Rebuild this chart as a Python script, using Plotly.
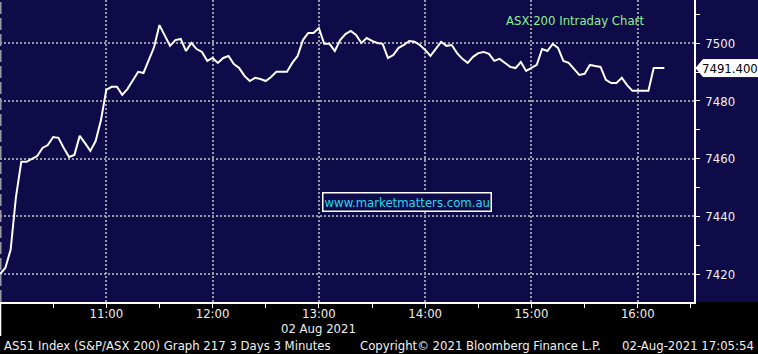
import pandas as pd
import plotly.graph_objects as go

# ---- data ----
start_time = "2021-08-02 10:00"
interval = "3min"
values = [
    7420.0, 7422.1, 7428.4, 7446.7, 7458.9, 7458.9, 7459.9, 7460.9, 7463.7, 7464.7,
    7467.5, 7467.2, 7463.7, 7460.6, 7461.3, 7467.9, 7465.4, 7462.7, 7466.1, 7473.4,
    7483.8, 7484.9, 7484.9, 7482.1, 7484.2, 7487.3, 7490.1, 7489.7, 7494.2, 7498.7,
    7506.3, 7502.9, 7499.1, 7501.1, 7501.5, 7497.3, 7500.1, 7498.0, 7497.0, 7493.9,
    7494.9, 7493.2, 7494.9, 7495.6, 7492.8, 7491.4, 7488.7, 7486.9, 7488.0, 7487.6,
    7486.9, 7488.3, 7490.1, 7490.1, 7490.1, 7493.2, 7495.6, 7501.1, 7503.6, 7503.6,
    7505.3, 7499.8, 7499.8, 7497.3, 7501.1, 7503.2, 7504.3, 7502.9, 7500.1, 7501.8,
    7500.8, 7500.1, 7499.8, 7494.9, 7495.9, 7498.4, 7499.4, 7500.8, 7500.5, 7499.4,
    7497.7, 7495.6, 7498.0, 7500.5, 7499.1, 7499.4, 7496.6, 7494.6, 7493.2, 7495.3,
    7496.6, 7497.0, 7496.3, 7493.9, 7494.6, 7493.2, 7491.8, 7491.4, 7493.5, 7490.4,
    7491.4, 7492.5, 7498.0, 7497.3, 7499.8, 7498.4, 7493.9, 7493.2, 7491.1, 7489.0,
    7489.4, 7492.5, 7492.1, 7491.8, 7487.3, 7486.2, 7486.2, 7488.0, 7485.5, 7483.5,
    7483.5, 7483.5, 7483.5, 7491.4, 7491.4, 7491.4,
]
times = pd.date_range(start_time, periods=len(values), freq=interval)

x_tick_vals = ["2021-08-02 11:00", "2021-08-02 12:00", "2021-08-02 13:00",
               "2021-08-02 14:00", "2021-08-02 15:00", "2021-08-02 16:00"]
x_tick_text = ["11:00", "12:00", "13:00", "14:00", "15:00", "16:00"]
date_label = "02 Aug 2021"
date_label_at = "2021-08-02 13:00"
y_tick_vals = [7420, 7440, 7460, 7480, 7500]
last_value = 7491.4
last_label = "7491.400"
title_text = "ASX 200 Intraday Chart"
watermark = "www.marketmatters.com.au"
footer_left = "AS51 Index (S&P/ASX 200) Graph 217 3 Days 3 Minutes"
footer_mid = "Copyright\u00a9 2021 Bloomberg Finance L.P."
footer_right = "02-Aug-2021 17:05:54"

# ---- style ----
W, H = 758, 354
ML, MR, MT, MB = 0, 64, 0, 52
PW, PH = W - ML - MR, H - MT - MB
Y_RANGE = [7410.3, 7515.0]
NAVY = "#0e0b48"
GRID = "#9a9aa6"
FONT = "DejaVu Sans Condensed, Liberation Sans, sans-serif"
LABEL = "#f2efe8"
UNITS_PER_PX = (Y_RANGE[1] - Y_RANGE[0]) / PH

def px_x(p):
    return p / PW

def px_y(p):
    return 1 - p / PH

fig = go.Figure()
fig.add_trace(go.Scatter(x=times, y=values, mode="lines",
                         line=dict(color="white", width=2), hoverinfo="skip",
                         showlegend=False))
# pointer triangles at the major y ticks (on an overlay axis in paper units)
fig.add_trace(go.Scatter(x=[px_x(698.5)] * len(y_tick_vals), y=y_tick_vals,
                         xaxis="x2", mode="markers", cliponaxis=False,
                         marker=dict(symbol="triangle-right", size=7, color="white",
                                     line=dict(width=0)),
                         hoverinfo="skip", showlegend=False))

fig.update_layout(
    width=W, height=H,
    margin=dict(l=ML, r=MR, t=MT, b=MB, pad=0),
    paper_bgcolor="black",
    plot_bgcolor=NAVY,
    font=dict(family=FONT, size=13, color=LABEL),
    showlegend=False,
    xaxis=dict(
        type="date",
        range=["2021-08-02 10:00", "2021-08-02 16:31:45"],
        tickvals=x_tick_vals, ticktext=x_tick_text,
        ticklabelstandoff=-1,
        showgrid=True, gridcolor=GRID, gridwidth=2, griddash="2px,2px",
        showline=True, linecolor="white", linewidth=1.5,
        ticks="", ticklen=0,
        minor=dict(dtick=30 * 60 * 1000, tick0="2021-08-02 10:30",
                   ticks="outside", ticklen=4, tickcolor="white", tickwidth=1,
                   showgrid=False),
        tickfont=dict(size=13, color=LABEL),
        zeroline=False, fixedrange=True,
    ),
    xaxis2=dict(overlaying="x", range=[0, 1], visible=False, fixedrange=True),
    yaxis=dict(
        side="right",
        range=Y_RANGE,
        tickvals=y_tick_vals,
        ticktext=[str(v) for v in y_tick_vals],
        ticklabelstandoff=7,
        showgrid=True, gridcolor=GRID, gridwidth=2, griddash="2px,2px",
        showline=True, linecolor="white", linewidth=1.5,
        ticks="", ticklen=0,
        minor=dict(dtick=10, tick0=7410, ticks="outside", ticklen=4,
                   tickcolor="white", tickwidth=1, showgrid=False),
        tickfont=dict(size=13, color=LABEL),
        zeroline=False, fixedrange=True,
    ),
)

shapes = [
    # navy panel to the right of the plot
    dict(type="rect", xref="paper", yref="paper", x0=1, x1=W / PW, y0=0, y1=1,
         fillcolor=NAVY, line=dict(width=0), layer="below"),
    # dashed left border
    dict(type="line", xref="paper", yref="paper", x0=px_x(0.5), x1=px_x(0.5), y0=0, y1=1,
         line=dict(color=GRID, width=2, dash="12px,4px"), layer="above"),
    # white tick at left below axis
    dict(type="line", xref="paper", yref="paper", x0=px_x(0.5), x1=px_x(0.5),
         y0=0, y1=-34 / PH, line=dict(color="white", width=1.5), layer="above"),
]
# last value tag (pointed box)
half = 8.5 * UNITS_PER_PX
tip, body, right = px_x(696), px_x(703), W / PW
shapes.append(dict(
    type="path", xref="paper", yref="y",
    path=(f"M {tip},{last_value} L {body},{last_value + half} L {right},{last_value + half} "
          f"L {right},{last_value - half} L {body},{last_value - half} Z"),
    fillcolor="white", line=dict(color="white", width=1), layer="above"))
fig.update_layout(shapes=shapes)

annotations = [
    dict(text=last_label, xref="paper", yref="y", x=px_x(700), y=last_value,
         xanchor="left", yanchor="middle", showarrow=False,
         font=dict(size=13, color="black")),
    dict(text=date_label, xref="x", yref="paper", x=date_label_at, y=px_y(328),
         xanchor="center", yanchor="middle", showarrow=False,
         font=dict(size=13, color=LABEL)),
    dict(text=title_text, xref="paper", yref="paper", x=px_x(504), y=px_y(20),
         xanchor="left", yanchor="middle", showarrow=False,
         font=dict(size=13, color="#8ef08e")),
    dict(text=watermark, xref="paper", yref="paper", x=px_x(407), y=px_y(202),
         xanchor="center", yanchor="middle", showarrow=False,
         font=dict(size=13, color="#22d8ee"),
         bordercolor="white", borderwidth=1.5, borderpad=1, bgcolor=NAVY),
    dict(text=footer_left, xref="paper", yref="paper", x=px_x(2), y=px_y(345),
         xanchor="left", yanchor="middle", showarrow=False,
         font=dict(size=13, color="#f0f0f0")),
    dict(text=footer_mid, xref="paper", yref="paper", x=px_x(358), y=px_y(345),
         xanchor="left", yanchor="middle", showarrow=False,
         font=dict(size=13, color="#f0f0f0")),
    dict(text=footer_right, xref="paper", yref="paper", x=px_x(756), y=px_y(345),
         xanchor="right", yanchor="middle", showarrow=False,
         font=dict(size=13, color="#f0f0f0")),
]
fig.update_layout(annotations=annotations)

fig.write_html("out.html", config=dict(displayModeBar=False))
